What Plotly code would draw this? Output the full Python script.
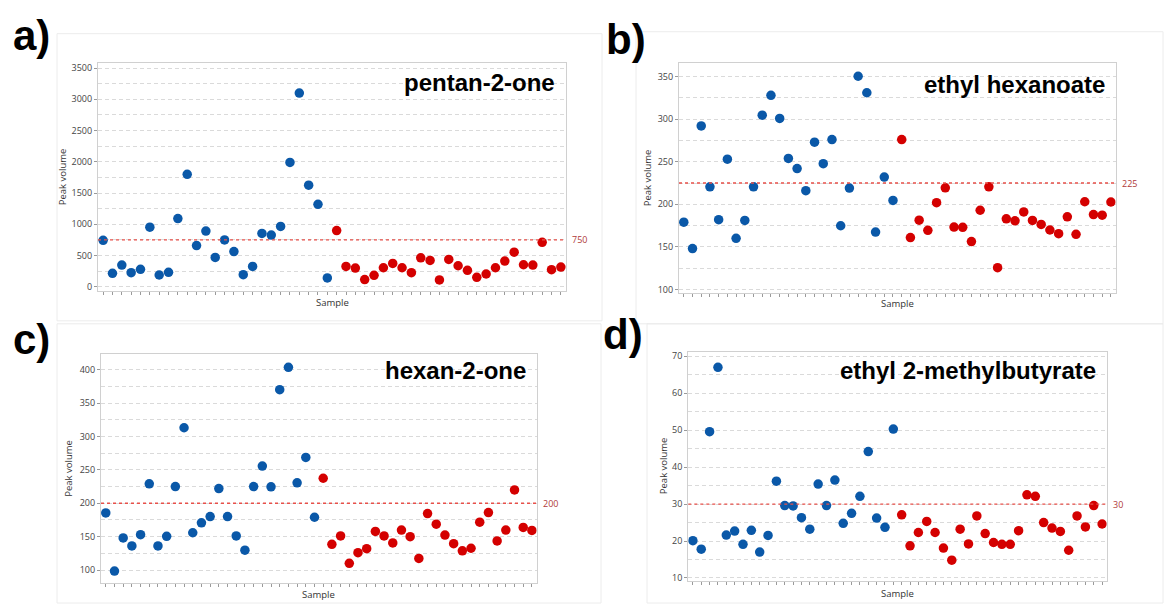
import plotly.graph_objects as go

W, H = 1165, 609

# ---------------- data ----------------
blue_x = list(range(1, 26))
red_x = list(range(26, 51))

a_blue = [744, 216, 348, 227, 280, 955, 190, 232, 1093, 1800, 660, 892, 470, 750, 565,
          195, 327, 855, 829, 966, 1990, 3099, 1626, 1320, 143]
a_red = [900, 327, 301, 116, 185, 306, 375, 306, 227, 465, 422, 111, 438, 338, 264,
         153, 206, 306, 412, 554, 354, 348, 713, 275, 317]

b_blue = [179, 148, 292, 220.5, 182, 253, 160, 181, 220.5, 304.7, 328, 300.8, 253.9, 242, 216,
          273, 247.7, 276, 174.8, 219, 350.4, 331, 167.4, 232, 204.6]
b_red = [276, 160.9, 181.4, 169.4, 201.9, 219.4, 173.3, 173, 156.2, 193, 220.5, 125.6, 183, 180.6, 191,
         181, 176.4, 169.8, 165.5, 185.3, 164.7, 203, 188, 187.2, 202.7]

c_blue = [185.5, 98.5, 148, 136, 153, 229, 136, 150.4, 225, 313, 155.8, 170.7, 180, 222, 180,
          151, 129.7, 225, 255.7, 224.5, 370, 403.5, 230.5, 268.5, 179]
c_red = [237.4, 138.5, 151, 110, 126, 132, 157.8, 151, 140.5, 159.8, 150, 117.3, 184.5, 168.7, 152.4,
         139.5, 128.7, 132.6, 171.7, 186, 143.5, 159.8, 220, 163.8, 159.3]

d_blue = [20.1, 17.8, 49.6, 67, 21.6, 22.7, 19.1, 22.9, 17, 21.5, 36.2, 29.6, 29.5, 26.3, 23.2,
          35.4, 29.6, 36.5, 24.8, 27.5, 32.1, 44.2, 26.2, 23.7, 50.3]
d_red = [27.1, 18.7, 22.3, 25.3, 22.3, 18.1, 14.8, 23.2, 19.2, 26.8, 22, 19.6, 19.1, 19.1, 22.8,
         32.5, 32.1, 25, 23.5, 22.6, 17.5, 26.8, 23.8, 29.6, 24.6]

titles = ["pentan-2-one", "ethyl hexanoate", "hexan-2-one", "ethyl 2-methylbutyrate"]
thresholds = [750, 225, 200, 30]
threshold_labels = ["750", "225", "200", "30"]
panel_letters = ["a)", "b)", "c)", "d)"]

# ---------------- layout helpers ----------------
def px_x(p):
    return p / W

def px_y(p):
    return 1 - p / H

BLUE = "#0a58a8"
RED = "#d40000"
TICKFONT = dict(family="Open Sans", size=9, color="#444444")
GRID = "#dadada"
GDASH = "4px,3px"

# plot areas in pixels: (left, right, top, bottom)
areas = [(98, 566, 62, 292), (679, 1115.7, 62, 294),
         (101, 536.7, 356, 586.7), (688.3, 1106.7, 353.3, 584.3)]
yranges = [(-68, 3574), (95.7, 365.5), (80.7, 422.7), (9.3, 71.2)]
ytick = [(0, 3500, 500, 250), (100, 350, 50, 25), (100, 400, 50, 25), (10, 70, 10, 5)]
datasets = [(a_blue, a_red), (b_blue, b_red), (c_blue, c_red), (d_blue, d_red)]
ylab_x = [62, 647, 69, 663]
samp_y = [303, 305, 598, 597]
letter_pos = [(31, 34), (626, 38), (31, 341), (623, 336)]
title_y = [81, 83, 372, 372]
frames = [(57, 602, 32, 322), (636, 1163, 30, 325), (57, 601, 325, 607), (647, 1163, 325, 607)]

fig = go.Figure()
shapes = []
annotations = []

for i in range(4):
    sfx = "" if i == 0 else str(i + 1)
    xa, ya = "x" + sfx, "y" + sfx
    l, r, t, b = areas[i]
    blue, red = datasets[i]
    fig.add_trace(go.Scatter(x=blue_x, y=blue, mode="markers", xaxis=xa, yaxis=ya,
                             marker=dict(color=BLUE, size=9.5), showlegend=False))
    fig.add_trace(go.Scatter(x=red_x, y=red, mode="markers", xaxis=xa, yaxis=ya,
                             marker=dict(color=RED, size=9.5), showlegend=False))
    y0, y1, dt, mdt = ytick[i]
    fig.layout["xaxis" + sfx] = dict(
        domain=[px_x(l), px_x(r)], anchor=ya, range=[0.45, 50.55],
        tickvals=list(range(1, 51)), showticklabels=False, ticks="outside",
        ticklen=3, tickcolor="#9a9a9a", tickwidth=1,
        showgrid=False, zeroline=False, showline=True, mirror=True,
        linecolor="#d0d0d0", linewidth=1.2)
    fig.layout["yaxis" + sfx] = dict(
        domain=[px_y(b), px_y(t)], anchor=xa, range=list(yranges[i]),
        tick0=y0, dtick=dt, ticks="outside", ticklen=3, tickcolor="#9a9a9a",
        tickfont=TICKFONT, showgrid=True, gridcolor=GRID, griddash=GDASH,
        gridwidth=1, zeroline=False, showline=True, mirror=True,
        linecolor="#d0d0d0", linewidth=1.2,
        minor=dict(dtick=mdt, tick0=y0, showgrid=True, gridcolor=GRID,
                   griddash=GDASH, gridwidth=1, ticks=""))
    # threshold line
    shapes.append(dict(type="line", xref=xa + " domain", x0=0, x1=1, yref=ya,
                       y0=thresholds[i], y1=thresholds[i],
                       line=dict(color="#e8504a", width=1.3, dash="dot")))
    annotations.append(dict(xref=xa + " domain", x=1.0, xshift=4, xanchor="left",
                            yref=ya, y=thresholds[i], yanchor="middle",
                            text=threshold_labels[i], showarrow=False,
                            font=dict(family="Open Sans", size=9, color="#b03a3a")))
    # title
    annotations.append(dict(xref="paper", x=px_x(r - 9), xanchor="right",
                            yref="paper", y=px_y(title_y[i]), yanchor="middle",
                            text="<b>" + titles[i] + "</b>", showarrow=False,
                            font=dict(family="Liberation Sans", size=24, color="#000000")))
    # axis titles
    annotations.append(dict(xref="paper", x=px_x(ylab_x[i]), xanchor="center",
                            yref="paper", y=px_y((t + b) / 2), yanchor="middle",
                            text="Peak volume", textangle=-90, showarrow=False,
                            font=dict(family="Open Sans", size=9.5, color="#333333")))
    annotations.append(dict(xref="paper", x=px_x((l + r) / 2), xanchor="center",
                            yref="paper", y=px_y(samp_y[i]), yanchor="middle",
                            text="Sample", showarrow=False,
                            font=dict(family="Open Sans", size=9.5, color="#333333")))
    # panel letter
    lx, ly = letter_pos[i]
    annotations.append(dict(xref="paper", x=px_x(lx), xanchor="center",
                            yref="paper", y=px_y(ly), yanchor="middle",
                            text="<b>" + panel_letters[i] + "</b>", showarrow=False,
                            font=dict(family="Liberation Sans", size=42, color="#000000")))
    # faint panel frame
    fl, fr, ft, fb = frames[i]
    shapes.append(dict(type="rect", xref="paper", yref="paper",
                       x0=px_x(fl), x1=px_x(fr), y0=px_y(fb), y1=px_y(ft),
                       line=dict(color="#ececec", width=1), layer="below"))

fig.update_layout(width=W, height=H, margin=dict(l=0, r=0, t=0, b=0),
                  paper_bgcolor="white", plot_bgcolor="white",
                  shapes=shapes, annotations=annotations, showlegend=False)

fig.write_html("out.html")
